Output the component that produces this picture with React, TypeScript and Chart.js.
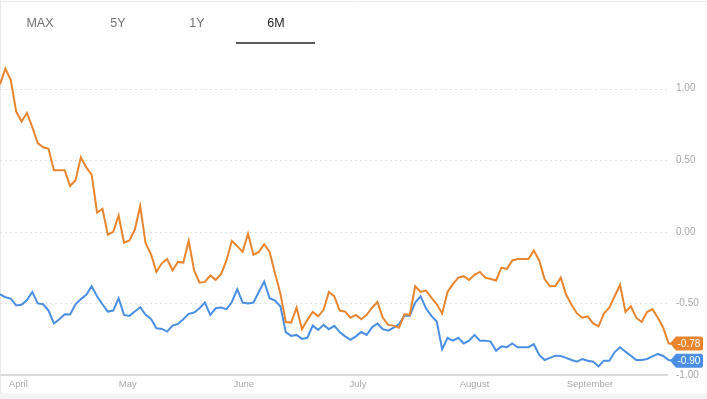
import React, { useEffect, useRef } from 'react';
import { Chart, registerables } from 'chart.js';

Chart.register(...registerables);

const tabs = ['MAX', '5Y', '1Y', '6M'];
const activeTab = '6M';
const monthLabels = ['April', 'May', 'June', 'July', 'August', 'September'];
const monthTickIndex = [3.4, 23.7, 45.2, 66.4, 88.0, 109.4];
const yTickValues = [-1, -0.5, 0, 0.5, 1];

const orangeSeries = [
  1.03, 1.14, 1.06, 0.84, 0.77, 0.83, 0.73, 0.62, 0.59, 0.58,
  0.43, 0.43, 0.43, 0.32, 0.36, 0.52, 0.45, 0.40, 0.135, 0.16,
  -0.02, 0.0, 0.114, -0.075, -0.06, 0.014, 0.18, -0.08, -0.155, -0.28,
  -0.22, -0.19, -0.27, -0.21, -0.215, -0.063, -0.27, -0.355, -0.35, -0.305,
  -0.335, -0.296, -0.2, -0.063, -0.1, -0.14, -0.014, -0.16, -0.14, -0.086,
  -0.14, -0.29, -0.43, -0.63, -0.634, -0.53, -0.68, -0.615, -0.56, -0.59,
  -0.545, -0.42, -0.45, -0.55, -0.557, -0.6, -0.58, -0.61, -0.58, -0.53,
  -0.49, -0.6, -0.65, -0.655, -0.67, -0.576, -0.58, -0.38, -0.42, -0.41,
  -0.46, -0.506, -0.57, -0.42, -0.366, -0.32, -0.31, -0.336, -0.30, -0.28,
  -0.32, -0.33, -0.34, -0.25, -0.26, -0.20, -0.19, -0.19, -0.19, -0.13,
  -0.20, -0.33, -0.38, -0.378, -0.32, -0.44, -0.51, -0.57, -0.60, -0.59,
  -0.64, -0.66, -0.57, -0.53, -0.45, -0.37, -0.56, -0.52, -0.60, -0.63,
  -0.56, -0.54, -0.60, -0.67, -0.78, -0.78,
];

const blueSeries = [
  -0.436, -0.457, -0.466, -0.515, -0.51, -0.476, -0.42, -0.50, -0.506, -0.55,
  -0.64, -0.61, -0.576, -0.578, -0.506, -0.47, -0.44, -0.38, -0.45, -0.506,
  -0.557, -0.55, -0.464, -0.58, -0.587, -0.557, -0.527, -0.58, -0.608, -0.674,
  -0.678, -0.697, -0.655, -0.643, -0.61, -0.573, -0.564, -0.534, -0.494, -0.58,
  -0.534, -0.529, -0.54, -0.49, -0.40, -0.494, -0.50, -0.494, -0.42, -0.347,
  -0.464, -0.48, -0.52, -0.70, -0.727, -0.72, -0.748, -0.74, -0.655, -0.685,
  -0.65, -0.68, -0.657, -0.70, -0.73, -0.755, -0.73, -0.70, -0.72, -0.667,
  -0.64, -0.68, -0.69, -0.67, -0.645, -0.587, -0.587, -0.494, -0.45, -0.534,
  -0.587, -0.627, -0.82, -0.74, -0.76, -0.74, -0.78, -0.76, -0.72, -0.76,
  -0.76, -0.767, -0.83, -0.80, -0.806, -0.78, -0.806, -0.806, -0.806, -0.785,
  -0.86, -0.895, -0.88, -0.865, -0.867, -0.88, -0.895, -0.907, -0.888, -0.90,
  -0.907, -0.94, -0.90, -0.90, -0.84, -0.806, -0.837, -0.865, -0.895, -0.895,
  -0.888, -0.87, -0.853, -0.867, -0.895, -0.90,
];

const ORANGE = '#E8852E';
const BLUE = '#4A8FE4';
const FONT = '"Liberation Sans", Arial, Helvetica, sans-serif';

const tabCenters = [40, 118, 197, 276];

export default function App() {
  const ref = useRef<HTMLCanvasElement | null>(null);

  useEffect(() => {
    document.body.style.margin = '0';
    const canvas = ref.current;
    if (!canvas) return;

    const decor = {
      id: 'decor',
      beforeDraw(chart: any) {
        const c = chart.ctx;
        c.save();
        c.fillStyle = '#ffffff';
        c.fillRect(0, 0, chart.width, chart.height);
        c.fillStyle = '#f3f3f3';
        c.fillRect(0, 393, chart.width, chart.height - 393);
        c.strokeStyle = '#e9e9e9';
        c.lineWidth = 1;
        c.beginPath();
        c.moveTo(0, 1.5);
        c.lineTo(chart.width, 1.5);
        c.moveTo(0.5, 0);
        c.lineTo(0.5, 393);
        c.stroke();
        c.restore();
      },
      beforeDatasetsDraw(chart: any) {
        const c = chart.ctx;
        const a = chart.chartArea;
        const y = chart.scales.y;
        const gridRight = a.right - 6;
        c.save();
        yTickValues.forEach((v) => {
          const py = y.getPixelForValue(v);
          const isBase = v === yTickValues[0];
          const yy = isBase ? py : Math.round(py) + 0.5;
          c.beginPath();
          if (isBase) {
            c.setLineDash([]);
            c.strokeStyle = '#dadada';
            c.lineWidth = 2;
          } else {
            c.setLineDash([2, 3]);
            c.strokeStyle = '#e2e2e2';
            c.lineWidth = 1;
          }
          c.moveTo(a.left, yy);
          c.lineTo(gridRight, yy);
          c.stroke();
        });
        c.restore();
      },
      afterDatasetsDraw(chart: any) {
        const c = chart.ctx;
        const a = chart.chartArea;
        const y = chart.scales.y;
        c.save();
        chart.data.datasets.forEach((ds: any) => {
          const vals = ds.data;
          const last = vals[vals.length - 1].y;
          const cy = y.getPixelForValue(last);
          const tip = a.right - 4;
          const left = a.right + 2;
          const right = 703;
          const h = 7;
          const r = 2;
          c.fillStyle = ds.borderColor;
          c.beginPath();
          c.moveTo(tip, cy);
          c.lineTo(left, cy - h);
          c.lineTo(right - r, cy - h);
          c.quadraticCurveTo(right, cy - h, right, cy - h + r);
          c.lineTo(right, cy + h - r);
          c.quadraticCurveTo(right, cy + h, right - r, cy + h);
          c.lineTo(left, cy + h);
          c.closePath();
          c.fill();
          c.fillStyle = '#ffffff';
          c.font = `10px ${FONT}`;
          c.textAlign = 'left';
          c.textBaseline = 'middle';
          c.fillText(last.toFixed(2), left + 1.5, cy + 0.5);
        });
        c.restore();
      },
    };

    const chart = new Chart(canvas, {
      type: 'line',
      data: {
        datasets: [
          {
            label: 'orange',
            data: orangeSeries.map((v, i) => ({ x: i, y: v })),
            borderColor: ORANGE,
            backgroundColor: ORANGE,
            borderWidth: 2,
            pointRadius: 0,
            tension: 0,
          },
          {
            label: 'blue',
            data: blueSeries.map((v, i) => ({ x: i, y: v })),
            borderColor: BLUE,
            backgroundColor: BLUE,
            borderWidth: 2,
            pointRadius: 0,
            tension: 0,
          },
        ],
      },
      options: {
        responsive: false,
        animation: false,
        devicePixelRatio: 1,
        layout: { padding: { top: 60, left: 0, right: 0, bottom: 0 } },
        plugins: { legend: { display: false }, tooltip: { enabled: false } },
        scales: {
          x: {
            type: 'linear',
            min: 0,
            max: orangeSeries.length - 1,
            grid: { display: false, drawTicks: false },
            border: { display: false },
            afterBuildTicks: (s: any) => {
              s.ticks = monthTickIndex.map((v) => ({ value: v }));
            },
            afterFit: (s: any) => {
              s.height = 24;
            },
            ticks: {
              autoSkip: false,
              maxRotation: 0,
              padding: 3.5,
              color: '#a8a8a8',
              font: { size: 9.5, family: FONT },
              callback: (_v: any, i: number) => monthLabels[i],
            },
          },
          y: {
            position: 'right',
            min: -1,
            max: 1.2,
            grid: { display: false, drawTicks: false },
            border: { display: false },
            afterBuildTicks: (s: any) => {
              s.ticks = yTickValues.map((v) => ({ value: v }));
            },
            afterFit: (s: any) => {
              s.width = 33;
            },
            ticks: {
              padding: 2,
              color: '#a8a8a8',
              font: { size: 10, family: FONT },
              callback: (v: any) => Number(v).toFixed(2),
            },
          },
        },
      } as any,
      plugins: [decor],
    });

    return () => chart.destroy();
  }, []);

  return (
    <div
      style={{
        position: 'relative',
        width: 707,
        height: 399,
        overflow: 'hidden',
        background: '#fff',
        fontFamily: FONT,
      }}
    >
      <canvas
        ref={ref}
        width={707}
        height={399}
        style={{ position: 'absolute', left: 0, top: 0, width: 707, height: 399 }}
      />
      {tabs.map((t, i) => (
        <div
          key={t}
          style={{
            position: 'absolute',
            left: tabCenters[i] - 30,
            top: 16,
            width: 60,
            textAlign: 'center',
            fontSize: 12.5,
            lineHeight: '15px',
            color: t === activeTab ? '#222222' : '#727272',
          }}
        >
          {t}
        </div>
      ))}
      <div
        style={{
          position: 'absolute',
          left: 236,
          top: 41.5,
          width: 79,
          height: 2.5,
          background: '#5a5a5a',
        }}
      />
    </div>
  );
}
